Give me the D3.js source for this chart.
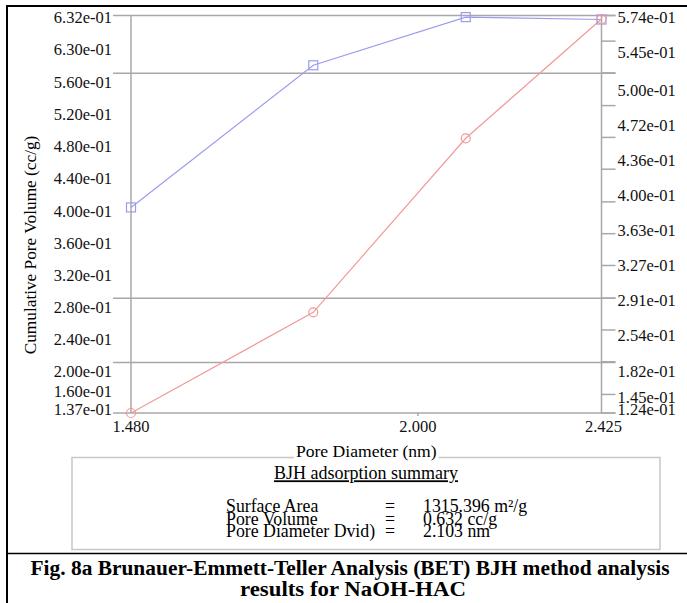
<!DOCTYPE html>
<html lang="en">
<head>
<meta charset="UTF-8">
<title>BJH pore volume</title>
<style>
    body { margin: 0; padding: 0; background: #fff; }
    svg { display: block; font-family: "Liberation Serif", "Times New Roman", serif; }
    .grid { stroke: #a8a8a8; stroke-width: 1.5; }
    .axis-line { stroke: #a8a8a8; stroke-width: 1.5; }
    .tick-label { font-size: 16.5px; fill: #111; }
    .frame { stroke: #000; }
</style>
</head>
<body>
<div id="chart"></div>
<script src="https://cdn.jsdelivr.net/npm/d3@7"></script>
<script>
    // pore diameter (nm) at each measured point
    const diameters = [1.480, 1.792, 2.103, 2.425];
    // blue series, read on the left axis
    const blueValues = [0.393, 0.570, 0.630, 0.627];
    // red series, read on the right axis
    const redValues = [0.124, 0.238, 0.435, 0.570];

    const xTicks = [1.480, 2.000, 2.425];
    const xTickLabels = ["1.480", "2.000", "2.425"];

    const leftTicks = [0.632, 0.630, 0.560, 0.520, 0.480, 0.440, 0.400, 0.360, 0.320, 0.280, 0.240, 0.200, 0.160, 0.137];
    const leftTickLabels = ["6.32e-01", "6.30e-01", "5.60e-01", "5.20e-01", "4.80e-01", "4.40e-01", "4.00e-01",
        "3.60e-01", "3.20e-01", "2.80e-01", "2.40e-01", "2.00e-01", "1.60e-01", "1.37e-01"];
    const gridValues = [0.632, 0.560, 0.280, 0.200, 0.137];

    const rightTicks = [0.574, 0.545, 0.509, 0.472, 0.436, 0.400, 0.363, 0.327, 0.291, 0.254, 0.218, 0.182, 0.145, 0.124];
    const rightLabelValues = [0.574, 0.545, 0.500, 0.472, 0.436, 0.400, 0.363, 0.327, 0.291, 0.254, 0.182, 0.145, 0.124];
    const rightTickLabels = ["5.74e-01", "5.45e-01", "5.00e-01", "4.72e-01", "4.36e-01", "4.00e-01", "3.63e-01",
        "3.27e-01", "2.91e-01", "2.54e-01", "1.82e-01", "1.45e-01", "1.24e-01"];

    const summaryNames = ["Surface Area", "Pore Volume", "Pore Diameter Dvid)"];
    const summaryValues = ["1315.396 m\u00b2/g", "0.632 cc/g", "2.103 nm"];

    const W = 687, H = 603;
    const plot = { left: 131, right: 601.5, top: 15.5, bottom: 413 };

    const svg = d3.select("#chart").append("svg")
        .attr("width", W)
        .attr("height", H);

    const x = d3.scaleLog()
        .domain([1.480, 2.425])
        .range([plot.left, plot.right]);

    const yLeft = d3.scaleLinear()
        .domain([0.137, 0.632])
        .range([plot.bottom, plot.top]);

    const yRight = d3.scaleLinear()
        .domain([0.124, 0.574])
        .range([plot.bottom, plot.top]);

    // spread labels so they don't collide: first and last stay at their tick
    function layoutLabels(ys, gapDown, gapUp) {
        const n = ys.length;
        const pos = ys.map((y, i) => i === 0 ? y + 2 : (i === n - 1 ? y - 4 : y + 9));
        for (let i = 1; i < n - 1; i++) pos[i] = Math.max(pos[i], pos[i - 1] + gapDown);
        for (let i = n - 2; i > 0; i--) pos[i] = Math.min(pos[i], pos[i + 1] - gapUp);
        return pos;
    }

    // grid lines (shared by both axes)
    svg.selectAll(".grid")
        .data(gridValues)
        .enter().append("line")
        .attr("class", "grid")
        .attr("x1", 113)
        .attr("x2", plot.right + 14)
        .attr("y1", d => yLeft(d))
        .attr("y2", d => yLeft(d));

    // axis lines
    svg.append("line").attr("class", "axis-line")
        .attr("x1", plot.left).attr("x2", plot.left)
        .attr("y1", plot.top).attr("y2", plot.bottom);
    svg.append("line").attr("class", "axis-line")
        .attr("x1", plot.right).attr("x2", plot.right)
        .attr("y1", plot.top).attr("y2", plot.bottom);

    // right minor ticks
    svg.selectAll(".rtick")
        .data(rightTicks)
        .enter().append("line")
        .attr("class", "axis-line rtick")
        .attr("x1", plot.right)
        .attr("x2", plot.right + 14)
        .attr("y1", d => yRight(d))
        .attr("y2", d => yRight(d));

    // bottom tick at 2.000
    svg.append("line").attr("class", "axis-line")
        .attr("x1", x(2.0)).attr("x2", x(2.0))
        .attr("y1", plot.bottom).attr("y2", plot.bottom + 3);

    // left labels
    const leftPos = layoutLabels(leftTicks.map(d => yLeft(d)), 32, 18);
    svg.selectAll(".llabel")
        .data(leftTickLabels)
        .enter().append("text")
        .attr("class", "tick-label llabel")
        .attr("x", 112)
        .attr("y", (d, i) => leftPos[i])
        .attr("dy", "0.35em")
        .attr("text-anchor", "end")
        .text(d => d);

    // right labels
    const rightPos = layoutLabels(rightLabelValues.map(d => yRight(d)), 35, 12);
    svg.selectAll(".rlabel")
        .data(rightTickLabels)
        .enter().append("text")
        .attr("class", "tick-label rlabel")
        .attr("x", plot.right + 16)
        .attr("y", (d, i) => rightPos[i])
        .attr("dy", "0.35em")
        .text(d => d);

    // x labels
    svg.selectAll(".xlabel")
        .data(xTicks)
        .enter().append("text")
        .attr("class", "tick-label xlabel")
        .attr("x", d => x(d) + (d === 2.425 ? 2 : 0))
        .attr("y", 426)
        .attr("dy", "0.35em")
        .attr("text-anchor", "middle")
        .text((d, i) => xTickLabels[i]);

    // axis titles
    svg.append("text")
        .attr("transform", "translate(30," + 245 + ") rotate(-90)")
        .attr("text-anchor", "middle")
        .attr("dy", "0.35em")
        .style("font-size", "17.3px")
        .text("Cumulative Pore Volume (cc/g)");

    // summary box
    svg.append("rect")
        .attr("x", 72).attr("y", 457.5)
        .attr("width", 588).attr("height", 92)
        .attr("fill", "none")
        .attr("stroke", "#c8c8c8")
        .attr("stroke-width", 1.5);

    const xTitle = svg.append("text")
        .attr("x", (plot.left + plot.right) / 2)
        .attr("y", 451)
        .attr("dy", "0.35em")
        .attr("text-anchor", "middle")
        .style("font-size", "17.6px")
        .text("Pore Diameter (nm)");
    const bb = xTitle.node().getBBox();
    svg.insert("rect", function () { return xTitle.node(); })
        .attr("x", bb.x - 2).attr("y", bb.y)
        .attr("width", bb.width + 4).attr("height", bb.height)
        .attr("fill", "#fff");

    svg.append("text")
        .attr("x", 366)
        .attr("y", 473)
        .attr("dy", "0.35em")
        .attr("text-anchor", "middle")
        .attr("text-decoration", "underline")
        .style("font-size", "18px")
        .text("BJH adsorption summary");

    const rows = svg.append("g").style("font-size", "17.8px");
    summaryNames.forEach((name, i) => {
        const yy = 506 + i * 12.5;
        rows.append("text").attr("x", 226).attr("y", yy).attr("dy", "0.35em").text(name);
        rows.append("text").attr("x", 385).attr("y", yy).attr("dy", "0.35em").text("=");
        rows.append("text").attr("x", 423).attr("y", yy).attr("dy", "0.35em").text(summaryValues[i]);
    });

    // series
    const blueLine = d3.line()
        .x((d, i) => x(diameters[i]))
        .y(d => yLeft(d));
    const redLine = d3.line()
        .x((d, i) => x(diameters[i]))
        .y(d => yRight(d));

    svg.append("path")
        .datum(blueValues)
        .attr("d", blueLine)
        .attr("fill", "none")
        .attr("stroke", "#9c9cee")
        .attr("stroke-width", 1.2);
    svg.append("path")
        .datum(redValues)
        .attr("d", redLine)
        .attr("fill", "none")
        .attr("stroke", "#f29a9a")
        .attr("stroke-width", 1.2);

    svg.selectAll(".bmark")
        .data(blueValues)
        .enter().append("rect")
        .attr("class", "bmark")
        .attr("x", (d, i) => x(diameters[i]) - 4.5)
        .attr("y", d => yLeft(d) - 4.5)
        .attr("width", 9).attr("height", 9)
        .attr("fill", "none")
        .attr("stroke", "#9c9cee")
        .attr("stroke-width", 1.2);
    svg.selectAll(".rmark")
        .data(redValues)
        .enter().append("circle")
        .attr("class", "rmark")
        .attr("cx", (d, i) => x(diameters[i]))
        .attr("cy", d => yRight(d))
        .attr("r", 4.5)
        .attr("fill", "none")
        .attr("stroke", "#f29a9a")
        .attr("stroke-width", 1.2);

    // frame of the figure cell
    svg.append("line").attr("class", "frame")
        .attr("x1", 6).attr("x2", W).attr("y1", 6).attr("y2", 6)
        .attr("stroke-width", 2);
    svg.append("line").attr("class", "frame")
        .attr("x1", 7).attr("x2", 7).attr("y1", 5).attr("y2", H)
        .attr("stroke-width", 2);
    svg.append("line").attr("class", "frame")
        .attr("x1", 6).attr("x2", W).attr("y1", 553.5).attr("y2", 553.5)
        .attr("stroke-width", 1.5);

    // caption
    const caption = svg.append("g")
        .style("font-weight", "bold")
        .style("font-size", "20px");
    caption.append("text")
        .attr("x", 350).attr("y", 568).attr("dy", "0.35em")
        .attr("text-anchor", "middle")
        .attr("textLength", 639)
        .attr("lengthAdjust", "spacingAndGlyphs")
        .text("Fig. 8a Brunauer-Emmett-Teller Analysis (BET) BJH method analysis");
    caption.append("text")
        .attr("x", 353).attr("y", 589).attr("dy", "0.35em")
        .attr("text-anchor", "middle")
        .attr("textLength", 226)
        .attr("lengthAdjust", "spacingAndGlyphs")
        .text("results for NaOH-HAC");
</script>
</body>
</html>
